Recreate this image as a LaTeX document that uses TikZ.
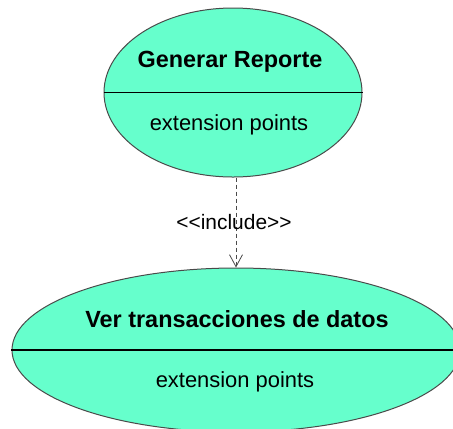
\documentclass[tikz,border=0pt]{standalone}
\usepackage{fontspec}
\setmainfont{Liberation Sans}
\newfontfamily\rawfont{Liberation Sans}
\usetikzlibrary{shapes.geometric,arrows.meta}
\definecolor{ucfill}{HTML}{66FFCC}
\definecolor{ucline}{HTML}{4A4A4A}
\tikzset{
  usecase/.style={ellipse, draw=ucline, line width=1bp, fill=ucfill, inner sep=0pt},
  divider/.style={draw=black, line width=1.5bp},
  ucname/.style={font=\fontsize{23.5}{27}\selectfont\bfseries, inner sep=0pt},
  ucext/.style={font=\fontsize{22}{26}\selectfont, inner sep=0pt},
  inclabel/.style={font=\rawfont\fontsize{21}{24}\selectfont, inner sep=0pt},
  includearrow/.style={draw=ucline, line width=0.8bp, dash pattern=on 4bp off 3bp,
    -{Straight Barb[length=12bp,width=13bp,line width=0.8bp]}}
}
\begin{document}
\begin{tikzpicture}[x=1bp,y=-1bp]
\useasboundingbox (0,0) rectangle (453,428);
\node[usecase, minimum width=258bp, minimum height=169bp] (gr) at (233,92.5) {};
\draw[divider] (gr.west) -- (gr.east);
\node[ucname] (grn) at (230,62) {Generar Reporte};
\node[ucext] (grx) at (229,125) {extension points};
\node[usecase, minimum width=448bp, minimum height=164bp] (vt) at (236,350) {};
\draw[divider] (vt.west) -- (vt.east);
\node[ucname] (vtn) at (237,319) {Ver transacciones de datos};
\node[ucext] (vtx) at (235,382) {extension points};
\draw[includearrow] (gr.south -| 236,0) -- (vt.north -| 236,0);
\node[inclabel] (inc) at (234,222) {<<include>>};
\end{tikzpicture}
\end{document}
